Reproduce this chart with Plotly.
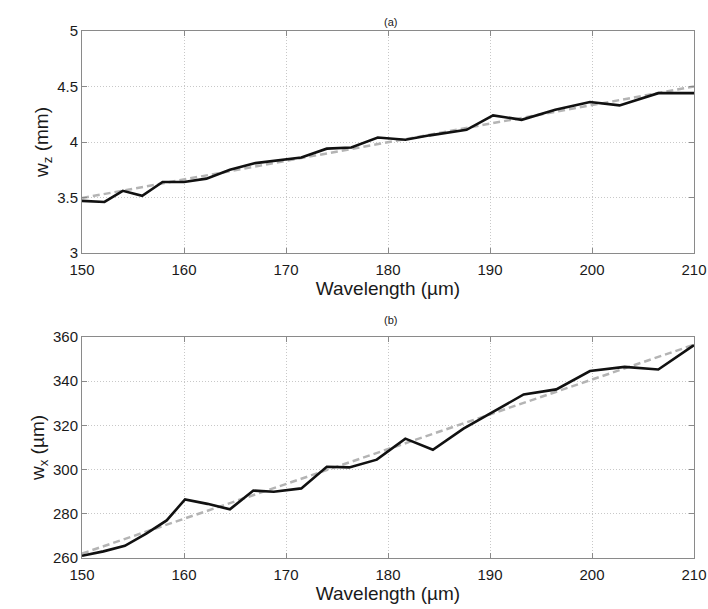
import plotly.graph_objects as go
from plotly.subplots import make_subplots

# (a) w_z vs wavelength
wl_a = [150.0, 152.2, 154.0, 155.9, 157.9, 160.0, 162.2, 164.5, 167.0, 168.8, 171.5, 174.0,
        176.4, 179.0, 181.7, 184.1, 187.7, 190.3, 193.1, 196.4, 199.8, 202.7, 206.5, 210.0]
wz = [3.47, 3.46, 3.56, 3.515, 3.64, 3.64, 3.67, 3.75, 3.81, 3.83, 3.86, 3.94,
      3.95, 4.04, 4.02, 4.06, 4.11, 4.24, 4.20, 4.29, 4.36, 4.33, 4.44, 4.44]
fit_a_x = [150.0, 210.0]
fit_a_y = [3.495, 4.5]

# (b) w_x vs wavelength
wl_b = [150.0, 152.1, 154.2, 156.3, 158.3, 160.1, 162.3, 164.5, 166.8, 168.8, 171.5, 174.0,
        176.2, 178.9, 181.7, 184.4, 187.4, 190.2, 193.3, 196.5, 199.8, 203.2, 206.5, 210.0]
wx = [261, 263, 265.5, 271, 277, 286.5, 284.5, 282, 290.5, 290, 291.5, 301.3,
      301, 304.5, 314, 309, 318.5, 326, 334, 336.3, 344.6, 346.5, 345.3, 356.3]
fit_b_x = [150.0, 210.0]
fit_b_y = [262.0, 356.5]

x_ticks = [150, 160, 170, 180, 190, 200, 210]
ya_ticks = [3, 3.5, 4, 4.5, 5]
ya_labels = ["3", "3.5", "4", "4.5", "5"]
yb_ticks = [260, 280, 300, 320, 340, 360]

FONT = "Liberation Sans, Arial, Helvetica, sans-serif"
BLACK = "#111111"
FIT = "#b4b4b4"
TXT = "#1a1a1a"

fig = make_subplots(rows=2, cols=1)

fig.add_trace(go.Scatter(x=fit_a_x, y=fit_a_y, mode="lines",
                         line=dict(color=FIT, width=2.5, dash="7px,4px"), showlegend=False), 1, 1)
fig.add_trace(go.Scatter(x=wl_a, y=wz, mode="lines",
                         line=dict(color=BLACK, width=2.6), showlegend=False), 1, 1)
fig.add_trace(go.Scatter(x=fit_b_x, y=fit_b_y, mode="lines",
                         line=dict(color=FIT, width=2.5, dash="7px,4px"), showlegend=False), 2, 1)
fig.add_trace(go.Scatter(x=wl_b, y=wx, mode="lines",
                         line=dict(color=BLACK, width=2.6), showlegend=False), 2, 1)

xdom = [82 / 708, 694 / 708]
common_x = dict(range=[150, 210], tickvals=x_ticks, showgrid=True, gridcolor="#c8c8c8",
                griddash="1px,2px", gridwidth=1, showline=True, linecolor="#8a8a8a", linewidth=1,
                mirror="allticks", ticks="inside", ticklen=5, tickcolor="#8a8a8a",
                zeroline=False, tickfont=dict(size=15, color=TXT, family=FONT),
                ticklabelstandoff=3, automargin=False, domain=xdom)
common_y = dict(showgrid=True, gridcolor="#c8c8c8", griddash="1px,2px", gridwidth=1,
                showline=True, linecolor="#8a8a8a", linewidth=1, mirror="allticks",
                ticks="inside", ticklen=5, tickcolor="#8a8a8a", zeroline=False,
                tickfont=dict(size=15, color=TXT, family=FONT), automargin=False)

fig.update_xaxes(**common_x, row=1, col=1,
                 title=dict(text="Wavelength (µm)", font=dict(size=19, color=TXT, family=FONT), standoff=0))
fig.update_xaxes(**common_x, row=2, col=1,
                 title=dict(text="Wavelength (µm)", font=dict(size=19, color=TXT, family=FONT), standoff=0))
fig.update_yaxes(**common_y, row=1, col=1, range=[3, 5], tickvals=ya_ticks, ticktext=ya_labels,
                 domain=[1 - 253 / 609, 1 - 31 / 609],
                 title=dict(text="w<sub>z</sub> (mm)", font=dict(size=19, color=TXT, family=FONT), standoff=3))
fig.update_yaxes(**common_y, row=2, col=1, range=[260, 360], tickvals=yb_ticks,
                 domain=[1 - 558 / 609, 1 - 337 / 609],
                 title=dict(text="w<sub>x</sub> (µm)", font=dict(size=19, color=TXT, family=FONT), standoff=3))

fig.add_annotation(text="(a)", x=390 / 708, y=1 - 14 / 609, xref="paper", yref="paper",
                   showarrow=False, font=dict(size=11, color=TXT, family=FONT))
fig.add_annotation(text="(b)", x=390 / 708, y=1 - 320 / 609, xref="paper", yref="paper",
                   showarrow=False, font=dict(size=11, color=TXT, family=FONT))

fig.update_layout(width=708, height=609, margin=dict(l=0, r=0, t=0, b=0),
                  paper_bgcolor="white", plot_bgcolor="white",
                  font=dict(family=FONT, color=TXT))

fig.write_html("out.html", config={"displayModeBar": False},
               post_script="document.body.style.margin='0';document.body.style.overflow='hidden';")
